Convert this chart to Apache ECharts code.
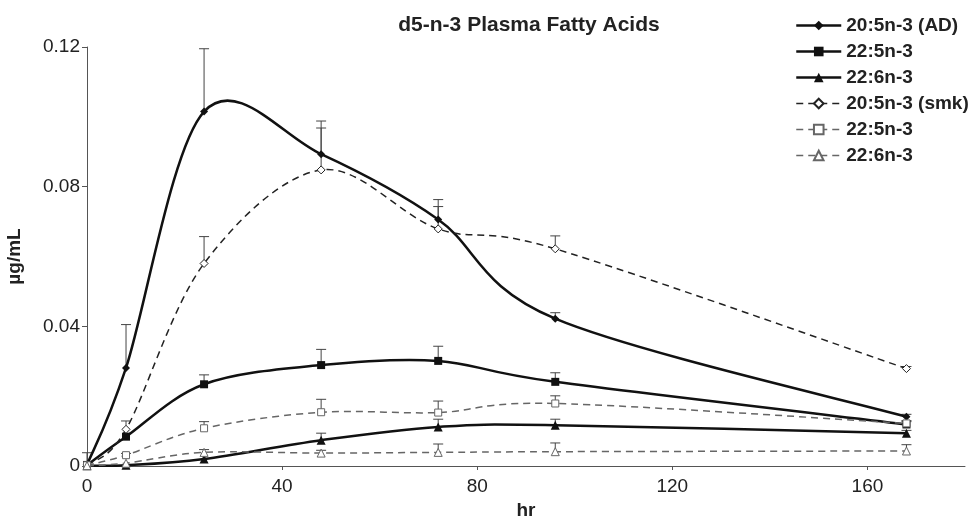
<!DOCTYPE html>
<html>
<head>
    <title>d5-n-3 Plasma Fatty Acids</title>
    <meta http-equiv="Content-Type" content="text/html; charset=utf-8" />
    <style>
        html, body { margin: 0; padding: 0; background: #fff; }
    </style>
</head>
<body>
<div id="chart" style="width: 975px;height: 518px"></div>
<script type="text/javascript" src="https://cdn.jsdelivr.net/npm/echarts@6/dist/echarts.min.js"></script>
<script type="text/javascript">
// 时间点 (hr)
var hours = [0, 8, 24, 48, 72, 96, 168];
var xTicks = [0, 40, 80, 120, 160];

// AD 组（实线）
var epaAD = [0.0003, 0.0281, 0.1015, 0.0893, 0.0706, 0.0422, 0.0141];
var epaADErr = [0.0035, 0.0124, 0.0180, 0.0095, 0.0057, 0.0017, 0.0007];
var dpaAD = [0.0003, 0.0084, 0.0234, 0.0289, 0.0301, 0.0241, 0.0119];
var dpaADErr = [0, 0, 0.0027, 0.0045, 0.0042, 0.0026, 0.0008];
var dhaAD = [0.0001, 0.0002, 0.0020, 0.0074, 0.0112, 0.0117, 0.0094];
var dhaADErr = [0, 0, 0, 0.0020, 0.0022, 0.0017, 0.0008];

// smk 组（虚线）
var epaSmk = [0.0003, 0.0105, 0.0580, 0.0848, 0.0679, 0.0622, 0.0279];
var epaSmkErr = [0, 0.0024, 0.0077, 0.0120, 0.0064, 0.0037, 0.0006];
var dpaSmk = [0.0002, 0.0031, 0.0108, 0.0154, 0.0153, 0.0179, 0.0122];
var dpaSmkErr = [0, 0.0005, 0.0019, 0.0037, 0.0033, 0.0022, 0.0008];
var dhaSmk = [0.0001, 0.0008, 0.0039, 0.0037, 0.0039, 0.0041, 0.0043];
var dhaSmkErr = [0, 0, 0.0008, 0.0008, 0.0024, 0.0025, 0.0018];

// 两组名字相同，后面加空格区分
var names = ['20:5n-3 (AD)', '22:5n-3', '22:6n-3', '20:5n-3 (smk)', '22:5n-3 ', '22:6n-3 '];

var font = "'Liberation Sans', Arial, sans-serif";
var myChart = echarts.init(document.getElementById('chart'));

function pairs(ys) {
    return hours.map(function (h, i) { return [h, ys[i]]; });
}
function errData(ys, errs) {
    var out = [];
    for (var i = 0; i < hours.length; i++) {
        if (errs[i] > 0) out.push([hours[i], ys[i], ys[i] + errs[i]]);
    }
    return out;
}

// 误差线（只画上半）
function errSeries(ys, errs) {
    return {
        type: 'custom',
        silent: true,
        z: 1,
        renderItem: function (params, api) {
            var p0 = api.coord([api.value(0), api.value(1)]);
            var p1 = api.coord([api.value(0), api.value(2)]);
            var style = { stroke: '#444', lineWidth: 1 };
            return {
                type: 'group',
                children: [
                    { type: 'line', shape: { x1: p0[0], y1: p0[1], x2: p1[0], y2: p1[1] }, style: style },
                    { type: 'line', shape: { x1: p1[0] - 5, y1: p1[1], x2: p1[0] + 5, y2: p1[1] }, style: style }
                ]
            };
        },
        encode: { x: 0, y: [1, 2] },
        data: errData(ys, errs)
    };
}

// Excel 风格的平滑曲线 (Catmull-Rom)
function curveSeries(ys, color, width, dash) {
    return {
        type: 'custom',
        silent: true,
        z: 2,
        renderItem: function (params, api) {
            if (params.dataIndex !== 0) return null;
            var pts = hours.map(function (h, i) { return api.coord([h, ys[i]]); });
            var n = pts.length;
            var d = 'M' + pts[0][0] + ' ' + pts[0][1];
            for (var i = 0; i < n - 1; i++) {
                var p0 = pts[Math.max(i - 1, 0)], p1 = pts[i], p2 = pts[i + 1], p3 = pts[Math.min(i + 2, n - 1)];
                var c1x = p1[0] + (p2[0] - p0[0]) / 6, c1y = p1[1] + (p2[1] - p0[1]) / 6;
                var c2x = p2[0] - (p3[0] - p1[0]) / 6, c2y = p2[1] - (p3[1] - p1[1]) / 6;
                d += ' C' + c1x + ' ' + c1y + ' ' + c2x + ' ' + c2y + ' ' + p2[0] + ' ' + p2[1];
            }
            return {
                type: 'path',
                shape: { pathData: d },
                style: { fill: 'none', stroke: color, lineWidth: width, lineDash: dash }
            };
        },
        encode: { x: 0, y: 1 },
        data: pairs(ys)
    };
}

function markSeries(name, ys, symbol, size, solid, lineColor, fill) {
    return {
        name: name,
        type: 'line',
        z: 3,
        symbol: symbol,
        symbolSize: size,
        showAllSymbol: true,
        lineStyle: { opacity: 0 },
        itemStyle: {
            color: fill,
            borderColor: lineColor,
            borderWidth: solid ? 0 : 1
        },
        emphasis: { disabled: true },
        data: pairs(ys)
    };
}

var styles = [
    { color: '#111', width: 2.5, type: 'solid' },
    { color: '#111', width: 2.5, type: 'solid' },
    { color: '#111', width: 2.5, type: 'solid' },
    { color: '#222', width: 1.5, type: [7, 5] },
    { color: '#666', width: 1.5, type: [7, 5] },
    { color: '#666', width: 1.5, type: [7, 5] }
];

var option = {
    backgroundColor: '#fff',
    animation: false,
    textStyle: { fontFamily: font },
    title: {
        text: 'd5-n-3 Plasma Fatty Acids',
        left: 524,
        textAlign: 'center',
        top: 10,
        textStyle: { fontSize: 21, fontWeight: 'bold', color: '#222', fontFamily: font }
    },
    legend: {
        data: names.map(function (nm, i) {
            return { name: nm, lineStyle: { color: styles[i].color, width: styles[i].width, type: styles[i].type, opacity: 1 } };
        }),
        orient: 'vertical',
        left: 790,
        top: 11,
        itemWidth: 45,
        itemHeight: 12,
        itemGap: 7,
        textStyle: { fontSize: 19, fontWeight: 'bold', color: '#222', fontFamily: font },
        selectedMode: false
    },
    grid: {
        left: 87,
        right: 10,
        top: 47,
        bottom: 52,
        containLabel: false,
        outerBoundsMode: 'none'
    },
    xAxis: {
        type: 'value',
        name: 'hr',
        nameLocation: 'middle',
        nameGap: 33,
        nameTextStyle: { fontSize: 19, fontWeight: 'bold', color: '#222', fontFamily: font },
        min: 0,
        max: 180,
        interval: 40,
        splitLine: { show: false },
        axisLine: { lineStyle: { color: '#555', width: 1 } },
        axisTick: { show: true, length: 4, lineStyle: { color: '#555' }, customValues: xTicks },
        axisLabel: { fontSize: 19, color: '#222', margin: 11, customValues: xTicks, fontFamily: font }
    },
    yAxis: {
        type: 'value',
        name: 'µg/mL',
        nameLocation: 'middle',
        nameGap: 63,
        nameRotate: 90,
        nameTextStyle: { fontSize: 19, fontWeight: 'bold', color: '#222', fontFamily: font },
        min: 0,
        max: 0.12,
        interval: 0.04,
        splitLine: { show: false },
        axisLine: { show: true, lineStyle: { color: '#555', width: 1 } },
        axisTick: { show: true, length: 5, lineStyle: { color: '#555' } },
        axisLabel: { fontSize: 19, color: '#222', margin: 7, fontFamily: font }
    },
    series: [
        errSeries(epaAD, epaADErr),
        errSeries(dpaAD, dpaADErr),
        errSeries(dhaAD, dhaADErr),
        errSeries(epaSmk, epaSmkErr),
        errSeries(dpaSmk, dpaSmkErr),
        errSeries(dhaSmk, dhaSmkErr),
        curveSeries(epaAD, styles[0].color, styles[0].width, null),
        curveSeries(dpaAD, styles[1].color, styles[1].width, null),
        curveSeries(dhaAD, styles[2].color, styles[2].width, null),
        curveSeries(epaSmk, styles[3].color, styles[3].width, styles[3].type),
        curveSeries(dpaSmk, styles[4].color, styles[4].width, styles[4].type),
        curveSeries(dhaSmk, styles[5].color, styles[5].width, styles[5].type),
        markSeries(names[0], epaAD, 'diamond', 8, true, '#111', '#111'),
        markSeries(names[1], dpaAD, 'rect', 8, true, '#111', '#111'),
        markSeries(names[2], dhaAD, 'triangle', 9, true, '#111', '#111'),
        markSeries(names[3], epaSmk, 'diamond', 8, false, '#222', '#fff'),
        markSeries(names[4], dpaSmk, 'rect', 7, false, '#666', '#fff'),
        markSeries(names[5], dhaSmk, 'triangle', 8, false, '#666', '#fff')
    ]
};
myChart.setOption(option);
</script>
</body>
</html>
